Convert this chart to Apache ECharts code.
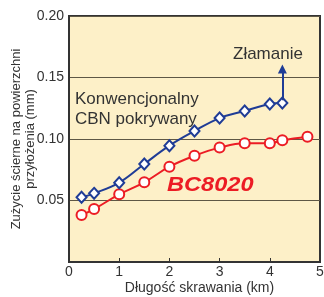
<!DOCTYPE html>
<html>
<head>
<meta charset="utf-8">
<script src="https://cdn.jsdelivr.net/npm/echarts@6/dist/echarts.min.js"></script>
<style>
  html, body { margin: 0; padding: 0; background: #fff; }
  #chart { width: 324px; height: 297px; }
</style>
</head>
<body>
<div id="chart"></div>
<script>
// dane
const distance = [0.25, 0.5, 1, 1.5, 2, 2.5, 3, 3.5, 4, 4.25, 4.75]
const cbnWear = [0.0526, 0.0558, 0.0645, 0.0797, 0.0946, 0.1065, 0.117, 0.1228, 0.1285, 0.1293]
const bc8020Wear = [0.0382, 0.043, 0.055, 0.0648, 0.0775, 0.0864, 0.093, 0.0965, 0.0965, 0.099, 0.1019]
const fracture = [[4.25, 0.1315], [4.25, 0.157]]
const yTicks = [0, 0.05, 0.1, 0.15, 0.2]
const xTicks = [0, 1, 2, 3, 4, 5]

const font = 'Liberation Sans, Arial, sans-serif'
const blue = '#1f3c96'
const red = '#ec1c24'

const pairs = (xs, ys) => ys.map((y, i) => [xs[i], y])

const chart = echarts.init(document.getElementById('chart'))

const option = {
  animation: false,
  textStyle: { fontFamily: font },
  grid: {
    left: 69,
    right: 4,
    top: 16,
    bottom: 35,
    containLabel: false,
    outerBoundsMode: 'none',
    show: true,
    backgroundColor: '#fdf0c8',
    borderColor: '#333',
    borderWidth: 2
  },
  xAxis: {
    type: 'value',
    min: xTicks[0],
    max: xTicks[xTicks.length - 1],
    interval: 1,
    name: 'Długość skrawania (km)',
    nameLocation: 'middle',
    nameGap: 19,
    nameMoveOverlap: false,
    nameTextStyle: { fontSize: 14, color: '#333', padding: [0, 0, 0, 10] },
    axisLine: { lineStyle: { color: '#333', width: 2 } },
    axisTick: { inside: true, length: 4, lineStyle: { color: '#333' } },
    axisLabel: { fontSize: 14, color: '#333', margin: 3 },
    splitLine: { show: false }
  },
  yAxis: {
    type: 'value',
    min: yTicks[0],
    max: yTicks[yTicks.length - 1],
    interval: 0.05,
    name: 'Zużycie ścierne na powierzchni\nprzyłożenia (mm)',
    nameLocation: 'middle',
    nameRotate: 90,
    nameGap: 32,
    nameMoveOverlap: false,
    nameTextStyle: { fontSize: 13, color: '#333', lineHeight: 14 },
    axisLine: { lineStyle: { color: '#333', width: 2 } },
    axisTick: { show: false },
    axisLabel: {
      fontSize: 14,
      color: '#333',
      margin: 5,
      formatter: v => (v === 0 ? '' : v.toFixed(2))
    },
    splitLine: { lineStyle: { color: '#5e5745', width: 1 } }
  },
  series: [
    {
      name: 'Konwencjonalny CBN pokrywany',
      type: 'line',
      smooth: 0.4,
      data: pairs(distance, cbnWear),
      symbol: 'diamond',
      symbolSize: [10, 11],
      lineStyle: { color: blue, width: 2 },
      itemStyle: { color: '#fff', borderColor: blue, borderWidth: 2 },
      z: 3,
      markLine: {
        silent: true,
        symbol: ['none', 'triangle'],
        symbolSize: [9, 9],
        label: { show: false },
        lineStyle: { color: blue, width: 2, type: 'solid' },
        data: [[{ coord: fracture[0] }, { coord: fracture[1] }]]
      }
    },
    {
      name: 'BC8020',
      type: 'line',
      smooth: 0.4,
      data: pairs(distance, bc8020Wear),
      symbol: 'circle',
      symbolSize: 10,
      lineStyle: { color: red, width: 2 },
      itemStyle: { color: '#fff', borderColor: red, borderWidth: 2 },
      z: 2
    }
  ],
  graphic: [
    {
      type: 'text',
      left: 233,
      top: 46,
      style: { text: 'Złamanie', font: '17px ' + font, fill: '#333' }
    },
    {
      type: 'text',
      left: 75,
      top: 89,
      style: { text: 'Konwencjonalny\nCBN pokrywany', font: '17px ' + font, fill: '#333', lineHeight: 20 }
    },
    {
      type: 'text',
      x: 167,
      y: 175,
      scaleX: 1.18,
      style: { text: 'BC8020', font: 'italic bold 20px ' + font, fill: red }
    }
  ]
}

chart.setOption(option)
</script>
</body>
</html>
